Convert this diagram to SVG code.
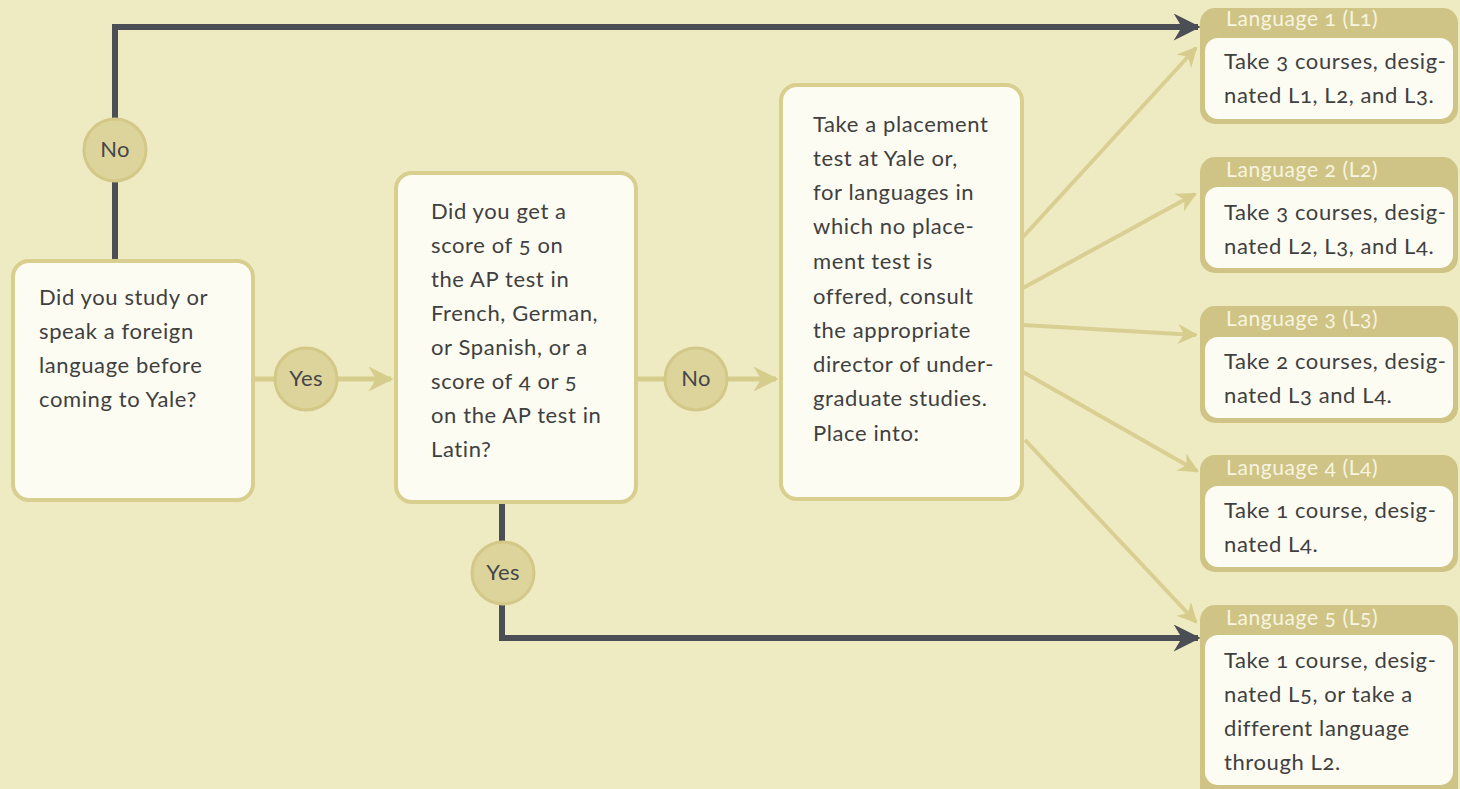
<svg xmlns="http://www.w3.org/2000/svg" width="1460" height="789" viewBox="0 0 1460 789">
<style>
text{font-family:Lato,"Open Sans","Liberation Sans",sans-serif;font-variant-numeric:oldstyle-nums}
.box{fill:#fdfcf3;stroke:#d8ce8e;stroke-width:4}
.t{font-size:22px;letter-spacing:0.6px;fill:#3f4040}
.hdr{fill:#cfc486}
.inner{fill:#fdfcf3}
.ht{font-size:21px;letter-spacing:0.6px;fill:#f7f4df}
.circ{fill:#ddd49b;stroke:#d3c887;stroke-width:3}
.ct{font-size:22px;letter-spacing:0.4px;fill:#45464a;text-anchor:middle}
.dark{fill:none;stroke:#4b4e54;stroke-width:6}
.tan{fill:none;stroke:#d6cc8c;stroke-width:5}
.tanf{fill:none;stroke:#d9cf92;stroke-width:4}
</style>
<defs>
<marker id="ad" viewBox="0 0 10 10" refX="9" refY="5" markerWidth="5" markerHeight="4.5" orient="auto" markerUnits="strokeWidth"><path d="M0,0 L10,5 L0,10 L3,5 Z" fill="#4b4e54"/></marker>
<marker id="at" viewBox="0 0 10 10" refX="9" refY="5" markerWidth="5.5" markerHeight="5" orient="auto" markerUnits="strokeWidth"><path d="M0,0 L10,5 L0,10 L3,5 Z" fill="#d6cc8c"/></marker>
</defs>
<rect width="1460" height="789" fill="#eeebc3"/>
<g id="connectors">
<path class="dark" d="M115,260 V182"/>
<path class="dark" d="M115,118 V27 H1198" marker-end="url(#ad)"/>
<path class="dark" d="M502,503 V541"/>
<path class="dark" d="M502,605 V638 H1198" marker-end="url(#ad)"/>
<path class="tan" d="M253,379 H274"/>
<path class="tan" d="M338,379 H391" marker-end="url(#at)"/>
<path class="tan" d="M636,379 H664"/>
<path class="tan" d="M728,379 H776" marker-end="url(#at)"/>
<path class="tanf" d="M1023,237 L1196,48" marker-end="url(#at)"/>
<path class="tanf" d="M1023,288 L1195,194" marker-end="url(#at)"/>
<path class="tanf" d="M1023,325 L1196,335" marker-end="url(#at)"/>
<path class="tanf" d="M1023,372 L1197,471" marker-end="url(#at)"/>
<path class="tanf" d="M1025,440 L1196,622" marker-end="url(#at)"/>
</g>
<g id="q1">
<rect class="box" x="13" y="261" width="240" height="239" rx="16"/>
<text class="t" x="39" y="305">Did you study or</text>
<text class="t" x="39" y="339">speak a foreign</text>
<text class="t" x="39" y="373">language before</text>
<text class="t" x="39" y="407">coming to Yale?</text>
</g>
<g id="q2">
<rect class="box" x="396" y="173" width="240" height="329" rx="16"/>
<text class="t" x="431" y="219">Did you get a</text>
<text class="t" x="431" y="253">score of 5 on</text>
<text class="t" x="431" y="287">the AP test in</text>
<text class="t" x="431" y="321">French, German,</text>
<text class="t" x="431" y="355">or Spanish, or a</text>
<text class="t" x="431" y="389">score of 4 or 5</text>
<text class="t" x="431" y="423">on the AP test in</text>
<text class="t" x="431" y="457">Latin?</text>
</g>
<g id="placement">
<rect class="box" x="781" y="85" width="241" height="414" rx="16"/>
<text class="t" x="813" y="132">Take a placement</text>
<text class="t" x="813" y="166">test at Yale or,</text>
<text class="t" x="813" y="200">for languages in</text>
<text class="t" x="813" y="234">which no place-</text>
<text class="t" x="813" y="269">ment test is</text>
<text class="t" x="813" y="304">offered, consult</text>
<text class="t" x="813" y="338">the appropriate</text>
<text class="t" x="813" y="372">director of under-</text>
<text class="t" x="813" y="406">graduate studies.</text>
<text class="t" x="813" y="441">Place into:</text>
</g>
<g id="no1"><circle class="circ" cx="115" cy="150" r="31"/><text class="ct" x="115" y="157">No</text></g>
<g id="yes1"><circle class="circ" cx="306" cy="379" r="31"/><text class="ct" x="306" y="386">Yes</text></g>
<g id="no2"><circle class="circ" cx="696" cy="379" r="31"/><text class="ct" x="696" y="386">No</text></g>
<g id="yes2"><circle class="circ" cx="503" cy="573" r="31"/><text class="ct" x="503" y="580">Yes</text></g>
<g id="L1">
<rect class="hdr" x="1200" y="8" width="258" height="116" rx="15"/>
<rect class="inner" x="1205" y="38" width="248" height="81" rx="13"/>
<text class="ht" x="1226" y="26">Language 1 (L1)</text>
<text class="t" x="1224" y="69">Take 3 courses, desig-</text>
<text class="t" x="1224" y="103">nated L1, L2, and L3.</text>
</g>
<g id="L2">
<rect class="hdr" x="1200" y="157" width="258" height="116" rx="15"/>
<rect class="inner" x="1205" y="187" width="248" height="81" rx="13"/>
<text class="ht" x="1226" y="177">Language 2 (L2)</text>
<text class="t" x="1224" y="220">Take 3 courses, desig-</text>
<text class="t" x="1224" y="254">nated L2, L3, and L4.</text>
</g>
<g id="L3">
<rect class="hdr" x="1200" y="306" width="258" height="117" rx="15"/>
<rect class="inner" x="1205" y="337" width="248" height="81" rx="13"/>
<text class="ht" x="1226" y="326">Language 3 (L3)</text>
<text class="t" x="1224" y="369">Take 2 courses, desig-</text>
<text class="t" x="1224" y="403">nated L3 and L4.</text>
</g>
<g id="L4">
<rect class="hdr" x="1200" y="455" width="258" height="117" rx="15"/>
<rect class="inner" x="1205" y="486" width="248" height="81" rx="13"/>
<text class="ht" x="1226" y="475">Language 4 (L4)</text>
<text class="t" x="1224" y="518">Take 1 course, desig-</text>
<text class="t" x="1224" y="552">nated L4.</text>
</g>
<g id="L5">
<rect class="hdr" x="1200" y="605" width="258" height="200" rx="15"/>
<rect class="inner" x="1205" y="635" width="248" height="150" rx="13"/>
<text class="ht" x="1226" y="625">Language 5 (L5)</text>
<text class="t" x="1224" y="668">Take 1 course, desig-</text>
<text class="t" x="1224" y="702">nated L5, or take a</text>
<text class="t" x="1224" y="736">different language</text>
<text class="t" x="1224" y="770">through L2.</text>
</g>
</svg>
